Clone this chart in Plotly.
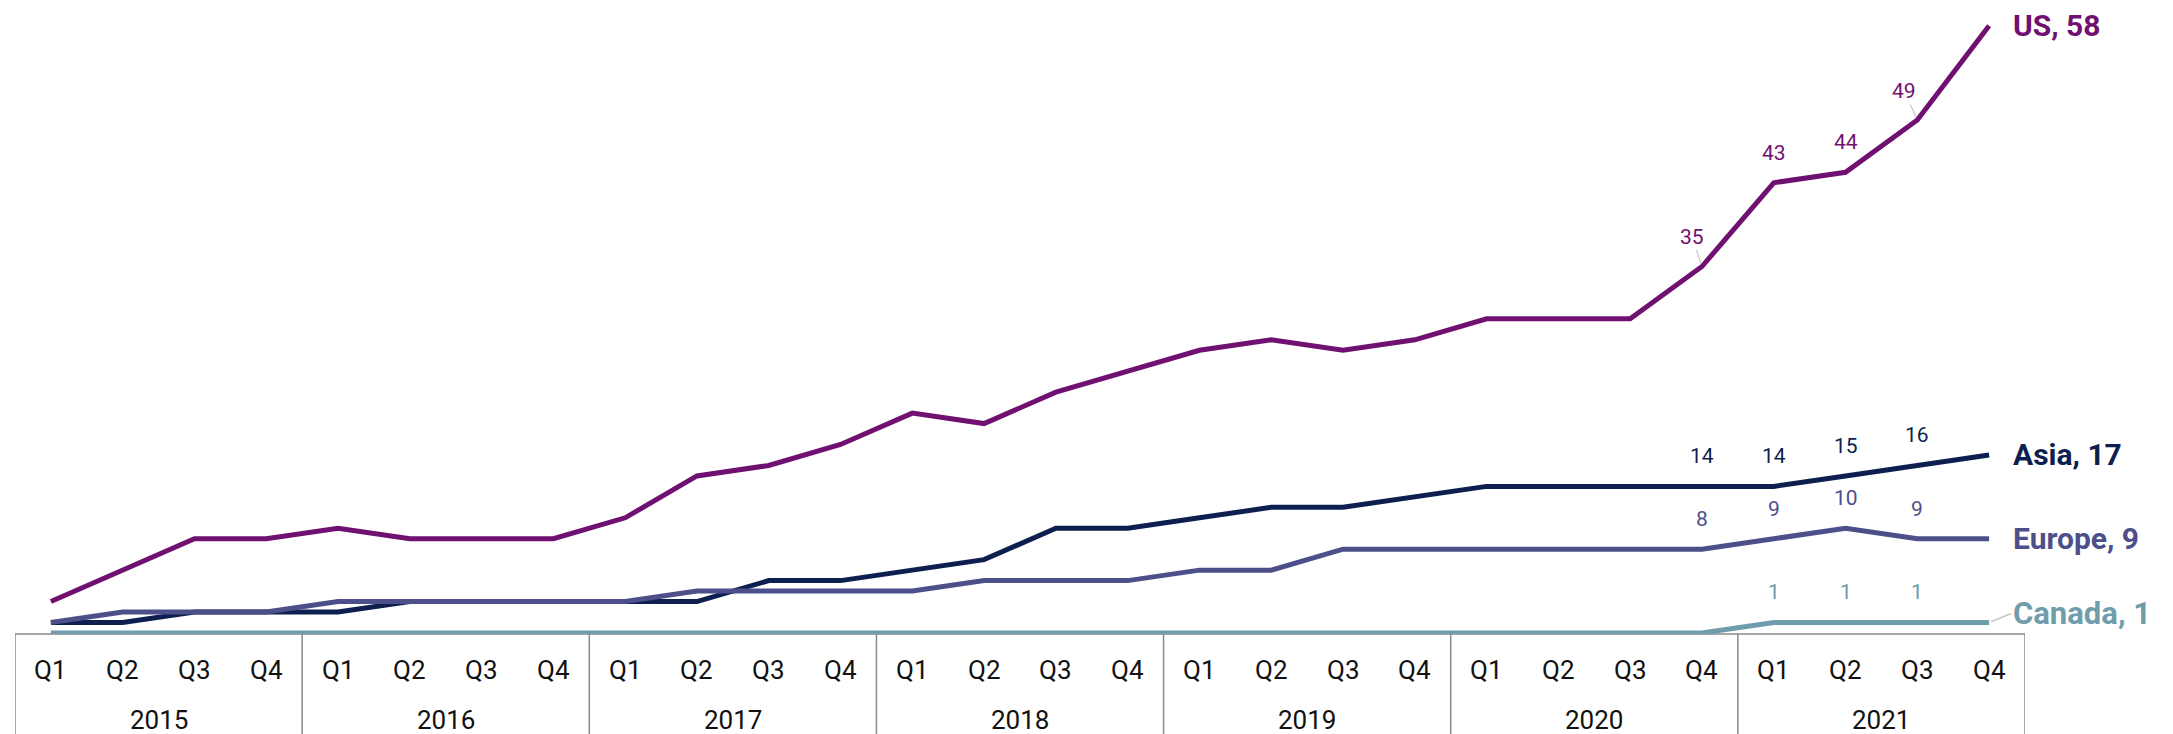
import plotly.graph_objects as go

years = ["2015", "2016", "2017", "2018", "2019", "2020", "2021"]
quarters = ["Q1", "Q2", "Q3", "Q4"]

us = [3, 6, 9, 9, 10, 9, 9, 9, 11, 15, 16, 18, 21, 20, 23, 25, 27, 28, 27, 28, 30, 30, 30, 35, 43, 44, 49, 58]
asia = [1, 1, 2, 2, 2, 3, 3, 3, 3, 3, 5, 5, 6, 7, 10, 10, 11, 12, 12, 13, 14, 14, 14, 14, 14, 15, 16, 17]
europe = [1, 2, 2, 2, 3, 3, 3, 3, 3, 4, 4, 4, 4, 5, 5, 5, 6, 6, 8, 8, 8, 8, 8, 8, 9, 10, 9, 9]
canada = [0] * 24 + [1, 1, 1, 1]

series_names = ["US", "Asia", "Europe", "Canada"]
series_values = [us, asia, europe, canada]
series_colors = ["#701070", "#0d1f4e", "#4d4f8a", "#6f9dac"]
# indices of points with value labels
label_idx = [[23, 24, 25, 26], [23, 24, 25, 26], [23, 24, 25, 26], [24, 25, 26]]
leader_idx = {0: {23: (-10, -30), 26: (-13, -29)}}

n = len(years) * len(quarters)
xs = list(range(n))

fig = go.Figure()
for name, vals, col in zip(series_names, series_values, series_colors):
    fig.add_trace(go.Scatter(x=xs, y=vals, mode="lines", name=name,
                             line=dict(color=col, width=5), cliponaxis=False,
                             hoverinfo="skip"))

annotations = []
for s, (vals, col) in enumerate(zip(series_values, series_colors)):
    for i in label_idx[s]:
        if s in leader_idx and i in leader_idx[s]:
            ax, ay = leader_idx[s][i]
            annotations.append(dict(x=i, y=vals[i], xref="x", yref="y", text=str(vals[i]),
                                    showarrow=True, ax=ax, ay=ay, arrowhead=0, arrowwidth=1.2,
                                    arrowcolor="#c8c8c8", standoff=3,
                                    font=dict(family="Roboto", size=21, color=col)))
        else:
            annotations.append(dict(x=i, y=vals[i], xref="x", yref="y", text=str(vals[i]),
                                    showarrow=False, yshift=30,
                                    font=dict(family="Roboto", size=21, color=col)))

# end labels
last = n - 1
for s, (name, vals, col) in enumerate(zip(series_names, series_values, series_colors)):
    txt = f"<b>{name}, {vals[last]}</b>"
    if name == "Canada":
        annotations.append(dict(x=last, y=vals[last], xref="x", yref="y", text=txt,
                                showarrow=True, ax=22, ay=-9, xanchor="left", arrowhead=0,
                                arrowwidth=1.5, arrowcolor="#c8c8c8", standoff=2,
                                font=dict(family="Roboto", size=31, color=col)))
    else:
        annotations.append(dict(x=last, y=vals[last], xref="x", yref="y", text=txt,
                                showarrow=False, xanchor="left", xshift=22,
                                font=dict(family="Roboto", size=30, color=col)))

# category axis labels
plot_h = 624
for yi, yr in enumerate(years):
    for qi, q in enumerate(quarters):
        annotations.append(dict(x=yi * 4 + qi, y=-36 / plot_h, xref="x", yref="paper", text=q,
                                showarrow=False, yanchor="middle",
                                font=dict(family="Roboto", size=26, color="#111111")))
    annotations.append(dict(x=yi * 4 + 1.5, y=-86 / plot_h, xref="x", yref="paper", text=yr,
                            showarrow=False, yanchor="middle",
                            font=dict(family="Roboto", size=26, color="#111111")))

shapes = []
for yi in range(len(years) + 1):
    shapes.append(dict(type="line", xref="x", yref="paper", x0=yi * 4 - 0.5, x1=yi * 4 - 0.5,
                       y0=0, y1=-120 / plot_h, line=dict(color="#8a8a8a", width=1.5), layer="below"))
shapes.append(dict(type="line", xref="x", yref="paper", x0=-0.5, x1=n - 0.5, y0=0, y1=0,
                   line=dict(color="#8a8a8a", width=1.5), layer="below"))

fig.update_layout(
    width=2173, height=734,
    margin=dict(l=15, r=148, t=10, b=100),
    paper_bgcolor="white", plot_bgcolor="white",
    showlegend=False,
    xaxis=dict(visible=False, range=[-0.5, n - 0.5], fixedrange=True),
    yaxis=dict(visible=False, range=[-0.1, 59.5], fixedrange=True),
    annotations=annotations,
    shapes=shapes,
    font=dict(family="Roboto"),
)

fig.write_html("out.html", config={"displayModeBar": False},
               post_script="document.body.style.margin='0';document.body.style.overflow='hidden';")
